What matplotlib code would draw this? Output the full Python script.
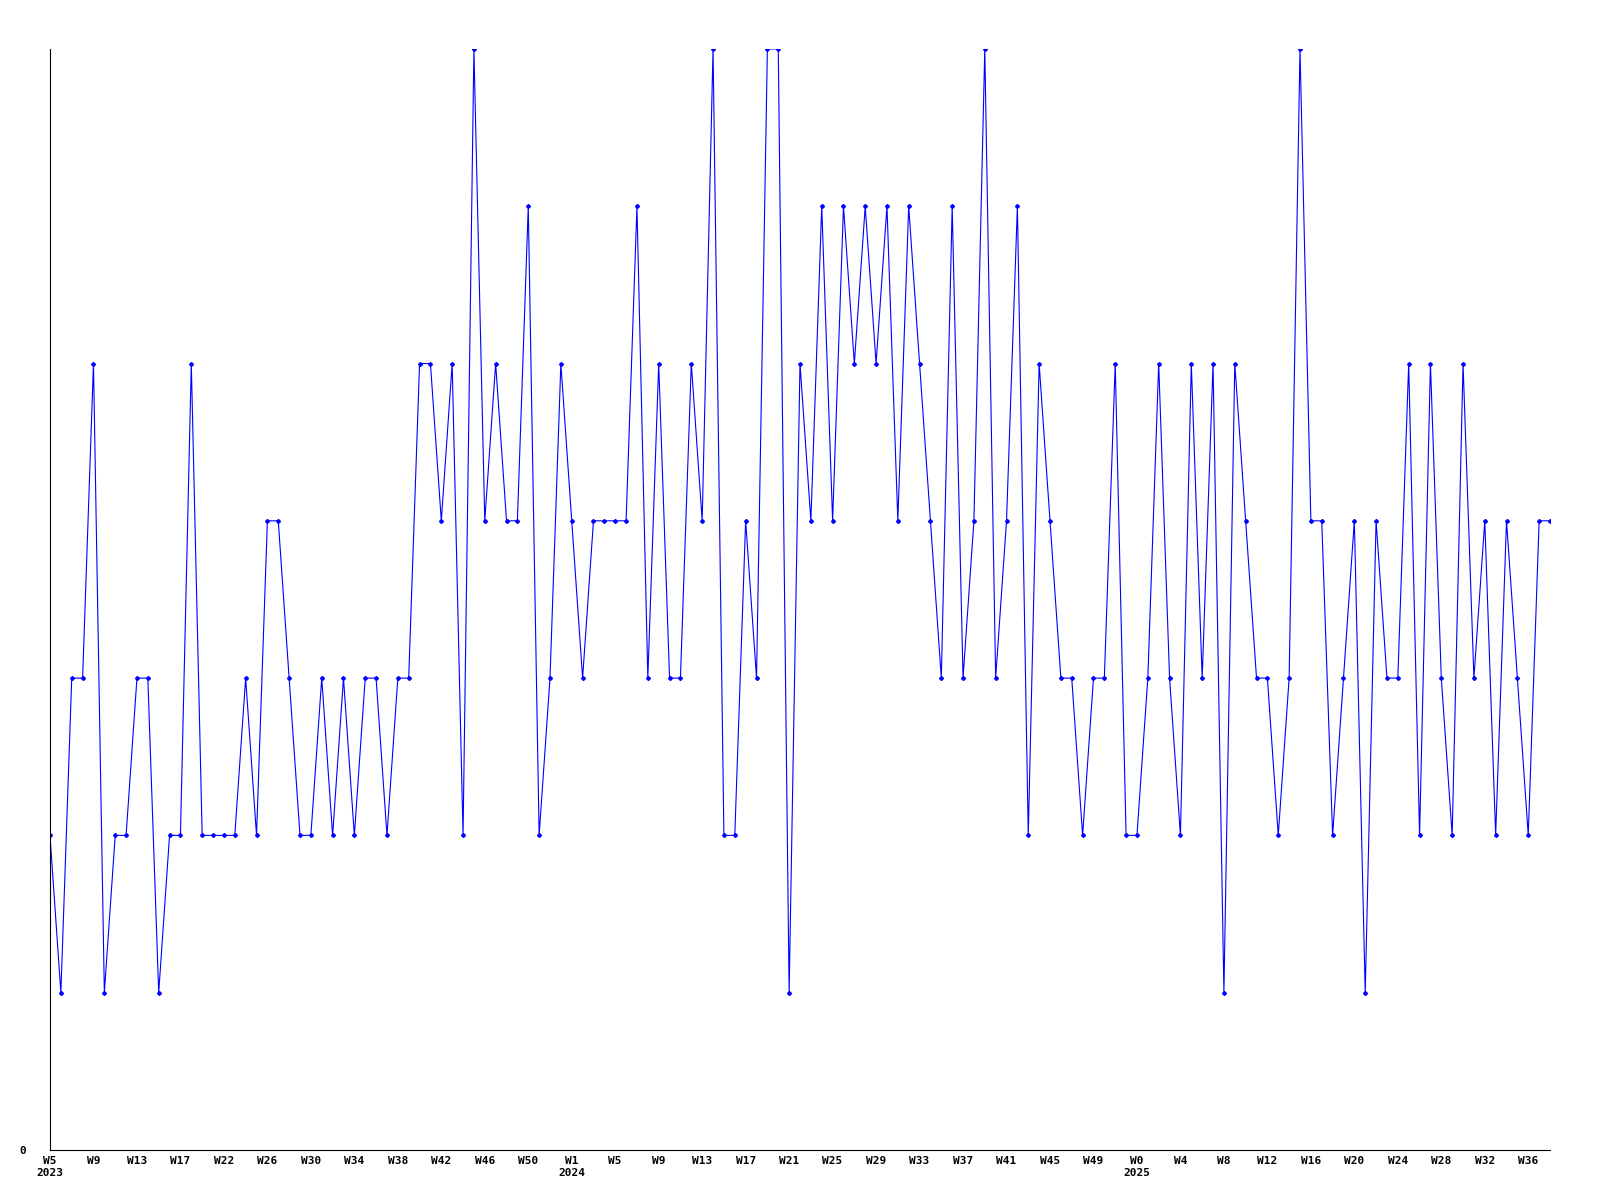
import matplotlib
matplotlib.use("Agg")
import matplotlib.pyplot as plt

# weekly values, W5 2023 .. W38 2025
values = [
    2, 1, 3, 3, 5, 1, 2, 2, 3, 3, 1, 2, 2, 5, 2, 2, 2, 2, 3, 2,
    4, 4, 3, 2, 2, 3, 2, 3, 2, 3, 3, 2, 3, 3, 5, 5, 4, 5, 2, 7,
    4, 5, 4, 4, 6, 2, 3, 5, 4, 3, 4, 4, 4, 4, 6, 3, 5, 3, 3, 5,
    4, 7, 2, 2, 4, 3, 7, 7, 1, 5, 4, 6, 4, 6, 5, 6, 5, 6, 4, 6,
    5, 4, 3, 6, 3, 4, 7, 3, 4, 6, 2, 5, 4, 3, 3, 2, 3, 3, 5, 2,
    2, 3, 5, 3, 2, 5, 3, 5, 1, 5, 4, 3, 3, 2, 3, 7, 4, 4, 2, 3,
    4, 1, 4, 3, 3, 5, 2, 5, 3, 2, 5, 3, 4, 2, 4, 3, 2, 4, 4,
]

# one tick every 4 weeks
tick_labels = [
    "W5\n2023", "W9", "W13", "W17", "W22", "W26", "W30", "W34", "W38",
    "W42", "W46", "W50", "W1\n2024", "W5", "W9", "W13", "W17", "W21",
    "W25", "W29", "W33", "W37", "W41", "W45", "W49", "W0\n2025", "W4",
    "W8", "W12", "W16", "W20", "W24", "W28", "W32", "W36",
]

x = list(range(len(values)))

fig = plt.figure(figsize=(16, 12), dpi=100)
ax = fig.add_axes([0.03125, 0.0417, 0.9375, 0.9175])

ax.plot(x, values, color="#0000ff", linewidth=0.8,
        marker="D", markersize=2, markerfacecolor="#0000ff",
        markeredgecolor="#0000ff")

ax.set_xlim(0, len(values) - 1)
ax.set_ylim(0, 7)

ax.set_xticks(x[::4])
ax.set_xticklabels(tick_labels, fontfamily="DejaVu Sans Mono",
                   fontweight="bold", fontsize=8, linespacing=1.3,
                   multialignment="center")
ax.set_yticks([0])
ax.set_yticklabels(["0"], fontfamily="DejaVu Sans Mono",
                   fontweight="bold", fontsize=8)
ax.tick_params(axis="x", length=0, pad=4)
ax.tick_params(axis="y", length=0, pad=17)

ax.spines["top"].set_visible(False)
ax.spines["right"].set_visible(False)
ax.spines["left"].set_linewidth(0.8)
ax.spines["bottom"].set_linewidth(0.8)

plt.savefig("out.png", dpi=100)
plt.close()
